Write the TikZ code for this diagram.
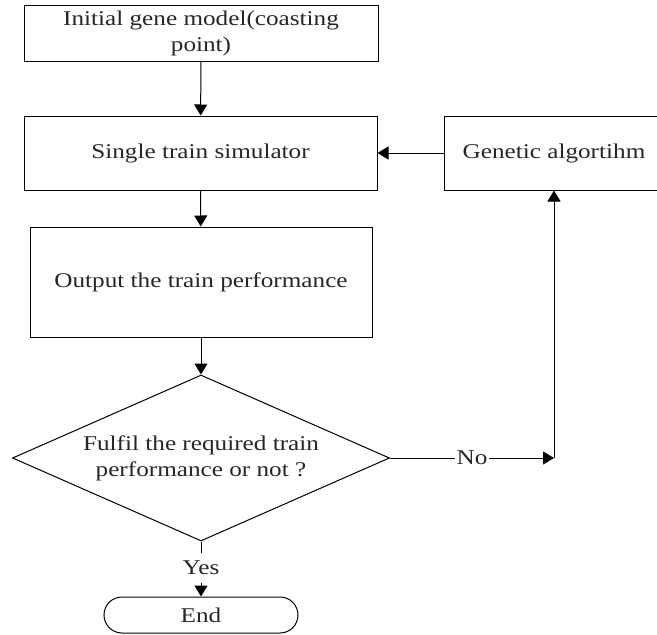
\documentclass[tikz,border=0pt]{standalone}
\usepackage{fontspec}
\setmainfont[FakeStretch=1.2]{Liberation Serif}
\usetikzlibrary{arrows.meta,shapes.geometric}
\begin{document}
\begin{tikzpicture}[x=1pt,y=1pt,
  every node/.style={font=\fontsize{21}{26}\selectfont, text=black!85},
  boxnode/.style={draw, line width=1pt, inner sep=0pt, align=center},
  arr/.style={line width=1pt, -{Triangle[length=11pt,width=13pt]}},
  lbl/.style={fill=white, inner sep=1.5pt}]
\useasboundingbox (0,0) rectangle (657,-635);
\node[boxnode, minimum width=354, minimum height=56] (init) at (201,-33) {Initial gene model(coasting\\point)};
\node[boxnode, minimum width=353, minimum height=74] (sim) at (200.5,-153) {Single train simulator};
\node[boxnode, minimum width=220, minimum height=74] (gen) at (554,-153) {Genetic algortihm};
\node[boxnode, minimum width=342, minimum height=110] (out) at (201,-282) {Output the train performance};
\node[draw, line width=1pt, shape=diamond, aspect=2.27, minimum width=377, minimum height=166, inner sep=0pt, align=center] (dia) at (201,-458) {Fulfil the required train\\performance or not ?};
\node[draw, line width=1pt, rounded corners=18pt, minimum width=194, minimum height=36, inner sep=0pt] (end) at (201,-615) {End};
\coordinate (c) at (554,-458);
\draw[arr] (init) -- (sim);
\draw[arr] (gen) -- (sim);
\draw[arr] (sim) -- (out);
\draw[arr] (out) -- (dia);
\draw[arr] (dia.east) -- (c);
\draw[arr] (c) -- (c |- gen.south);
\node[lbl] (no) at (472,-458) {No};
\draw[arr] (dia.south) -- (end.north);
\node[lbl, minimum height=30] (yes) at (201,-568) {Yes};
\end{tikzpicture}
\end{document}
